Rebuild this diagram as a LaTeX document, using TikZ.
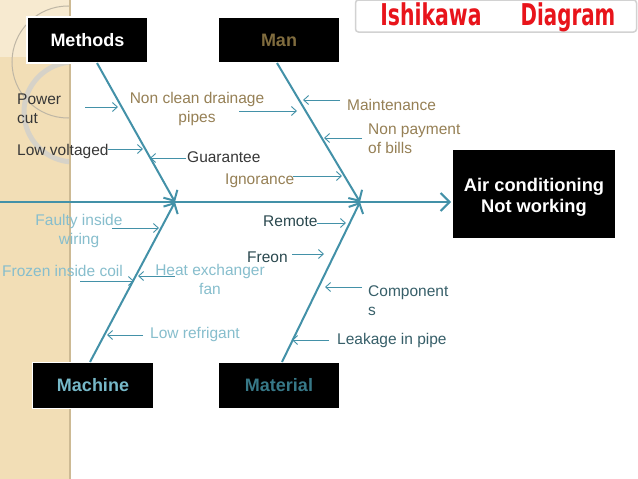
\documentclass[tikz,border=0pt]{standalone}
\usepackage{fontspec}
\setmainfont{Liberation Sans}
\newfontfamily\titlefont{DejaVu Sans}
\usetikzlibrary{arrows.meta}
\definecolor{tanbg}{RGB}{242,222,182}
\definecolor{tanlight}{RGB}{247,234,208}
\definecolor{tanedge}{RGB}{205,186,148}
\definecolor{ringgray}{RGB}{214,210,200}
\definecolor{circgray}{RGB}{190,182,165}
\definecolor{teal}{RGB}{67,145,168}
\definecolor{tantext}{RGB}{150,128,85}
\definecolor{mantext}{RGB}{128,108,62}
\definecolor{darktext}{RGB}{55,55,55}
\definecolor{lighttext}{RGB}{135,190,205}
\definecolor{machtext}{RGB}{118,184,200}
\definecolor{mattext}{RGB}{55,120,135}
\definecolor{slatetext}{RGB}{42,72,78}
\definecolor{slatetext2}{RGB}{55,95,105}
\definecolor{titlered}{RGB}{232,20,27}
\begin{document}
\begin{tikzpicture}[x=1pt,y=-1pt,
  catbox/.style={fill=black,draw=white,line width=1.5pt,minimum width=121pt,minimum height=46pt,inner sep=0pt,font=\fontsize{18}{21}\selectfont\bfseries},
  bone/.style={draw=teal,line width=2pt,-{Straight Barb[length=8pt,width=16pt,line width=2pt]}},
  twig/.style={draw=teal,line width=0.9pt,-{Straight Barb[length=5pt,width=9pt,line width=0.9pt]}},
  lbl/.style={inner sep=0pt,font=\fontsize{15.5}{18.5}\selectfont},
  lblc/.style={lbl,align=center},
  titletext/.style={titlered,inner sep=0pt,anchor=base,font=\titlefont\fontsize{30}{30}\selectfont\bfseries}]
\useasboundingbox (0,0) rectangle (638,479);
\fill[white] (0,0) rectangle (638,479);
% left decorative strip
\fill[tanbg] (0,0) rectangle (70,479);
\fill[tanlight] (0,0) rectangle (70,57);
\begin{scope}
  \clip (0,0) rectangle (70,479);
  \draw[circgray,line width=1pt] (68,62) circle (56);
  \draw[ringgray,line width=5pt] (74,112) circle (50);
\end{scope}
\draw[tanedge,line width=1.5pt] (70,0) -- (70,479);
% title
\node[draw=gray!35,line width=1.5pt,rounded corners=3pt,fill=white,minimum width=281pt,minimum height=32pt,inner sep=0pt] (titlebox) at (496,16) {};
\node[titletext,xscale=0.68] (title1) at (431,25) {Ishikawa};
\node[titletext,xscale=0.66] (title2) at (568,25) {Diagram};
% category boxes
\node[catbox,text=white] (methods) at (87.5,40) {Methods};
\node[catbox,text=mantext] (man) at (279,40) {Man};
\node[catbox,text=machtext] (machine) at (93,385.5) {Machine};
\node[catbox,text=mattext] (material) at (279,385.5) {Material};
\node[fill=black,minimum width=162pt,minimum height=88pt,inner sep=0pt] (effect) at (534,194) {};
\node[text=white,inner sep=0pt,anchor=base,font=\fontsize{18.3}{21}\selectfont\bfseries] (eff1) at (534,191) {Air conditioning};
\node[text=white,inner sep=0pt,anchor=base,font=\fontsize{18.3}{21}\selectfont\bfseries] (eff2) at (534,212) {Not working};
% spine and bones
\coordinate (spinestart) at (0,202);
\coordinate (spineend) at (451,202);
\coordinate (jleft) at (175,202);
\coordinate (jright) at (360,202);
\coordinate (mtop) at (97,63);
\coordinate (mantop) at (277,63);
\coordinate (machbot) at (90,362);
\coordinate (matbot) at (282,362);
\draw[teal,line width=2pt,-{Straight Barb[length=9pt,width=18pt,line width=2pt]}] (spinestart) -- (spineend);
\draw[bone] (mtop) -- (jleft);
\draw[bone] (mantop) -- (jright);
\draw[bone] (machbot) -- (jleft);
\draw[bone] (matbot) -- (jright);
% Methods causes
\node[lbl,darktext,anchor=base west,align=left] (power) at (17,123) {Power\\cut};
\coordinate (a1s) at (85,107); \coordinate (a1e) at (118,107);
\draw[twig] (a1s) -- (a1e);
\node[lbl,darktext,anchor=base west] (lowv) at (17,155) {Low voltaged};
\coordinate (a2s) at (108,149); \coordinate (a2e) at (143,149);
\draw[twig] (a2s) -- (a2e);
\node[lbl,darktext,anchor=base west] (guar) at (187,162) {Guarantee};
\coordinate (a3s) at (186,158); \coordinate (a3e) at (150,158);
\draw[twig] (a3s) -- (a3e);
\node[lblc,tantext,anchor=base] (drain) at (197,122) {Non clean drainage\\pipes};
\coordinate (a4s) at (239,111); \coordinate (a4e) at (297,111);
\draw[twig] (a4s) -- (a4e);
% Man causes
\node[lbl,tantext,anchor=base west] (ign) at (225,184) {Ignorance};
\coordinate (a5s) at (293,176); \coordinate (a5e) at (342,176);
\draw[twig] (a5s) -- (a5e);
\node[lbl,tantext,anchor=base west] (maint) at (347,110) {Maintenance};
\coordinate (a6s) at (340,100); \coordinate (a6e) at (303,100);
\draw[twig] (a6s) -- (a6e);
\node[lbl,tantext,anchor=base west,align=left] (bills) at (368,153) {Non payment\\of bills};
\coordinate (a7s) at (362,138); \coordinate (a7e) at (324,138);
\draw[twig] (a7s) -- (a7e);
% Machine causes
\node[lblc,lighttext,anchor=base] (faulty) at (79,244) {Faulty inside\\wiring};
\coordinate (b1s) at (112,228); \coordinate (b1e) at (159,228);
\draw[twig] (b1s) -- (b1e);
\node[lbl,lighttext,anchor=base west] (frozen) at (2,276) {Frozen inside coil};
\coordinate (b2s) at (80,281); \coordinate (b2e) at (134,281);
\draw[twig] (b2s) -- (b2e);
\node[lblc,lighttext,anchor=base] (heat) at (210,294) {Heat exchanger\\fan};
\coordinate (b3s) at (175,276); \coordinate (b3e) at (138,276);
\draw[twig] (b3s) -- (b3e);
\node[lbl,lighttext,anchor=base west] (lowr) at (150,338) {Low refrigant};
\coordinate (b4s) at (143,335); \coordinate (b4e) at (107,335);
\draw[twig] (b4s) -- (b4e);
% Material causes
\node[lbl,slatetext,anchor=base west] (remote) at (263,226) {Remote};
\coordinate (c1s) at (317,223); \coordinate (c1e) at (346,223);
\draw[twig] (c1s) -- (c1e);
\node[lbl,slatetext,anchor=base west] (freon) at (247,262) {Freon};
\coordinate (c2s) at (292,254); \coordinate (c2e) at (324,254);
\draw[twig] (c2s) -- (c2e);
\node[lbl,slatetext2,anchor=base west,align=left] (comp) at (368,315) {Component\\s};
\coordinate (c3s) at (362,287); \coordinate (c3e) at (325,287);
\draw[twig] (c3s) -- (c3e);
\node[lbl,slatetext2,anchor=base west] (leak) at (337,344) {Leakage in pipe};
\coordinate (c4s) at (329,340); \coordinate (c4e) at (292,340);
\draw[twig] (c4s) -- (c4e);
\end{tikzpicture}
\end{document}
